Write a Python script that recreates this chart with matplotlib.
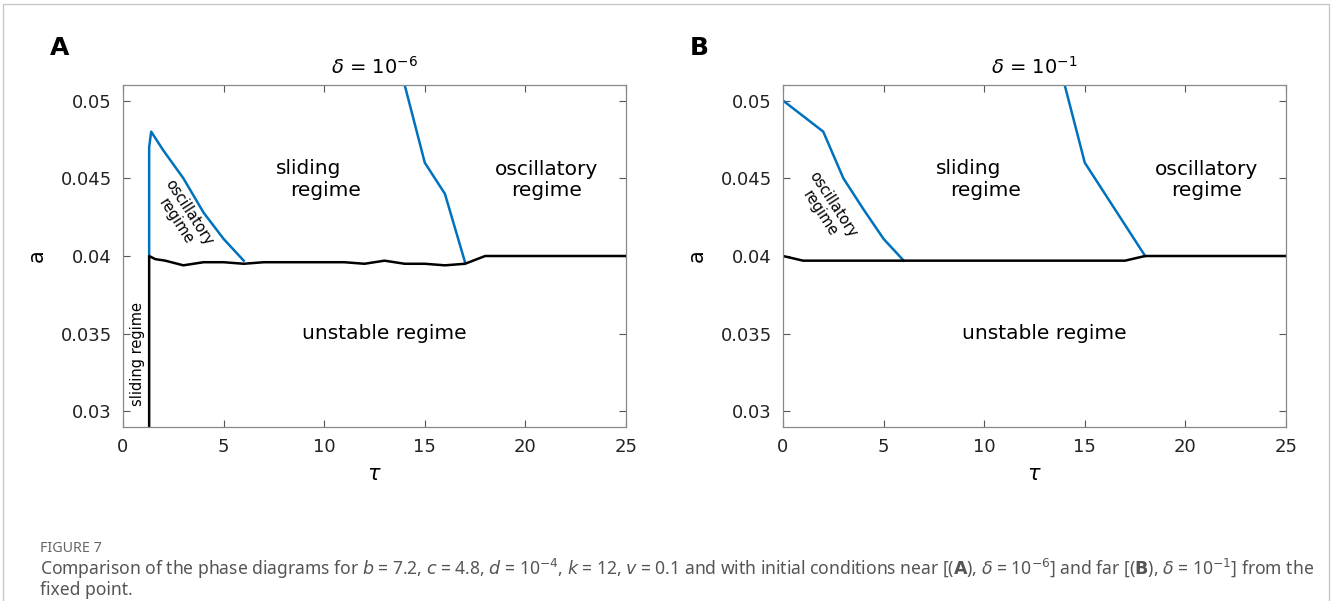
import matplotlib
matplotlib.use("Agg")
import matplotlib.pyplot as plt
from matplotlib.patches import Rectangle

plt.rcParams['font.family'] = ['DejaVu Sans']
plt.rcParams['mathtext.fontset'] = 'custom'
plt.rcParams['mathtext.rm'] = 'DejaVu Sans'
plt.rcParams['mathtext.it'] = 'DejaVu Sans:italic'
plt.rcParams['mathtext.bf'] = 'DejaVu Sans:bold'

# panel A (delta = 1e-6)
a_osc_left_tau = [1.3, 1.3, 1.4, 2.0, 3.0, 4.0, 5.0, 6.0]
a_osc_left_a = [0.0400, 0.0470, 0.0480, 0.0468, 0.0450, 0.0428, 0.0411, 0.0397]
a_osc_right_tau = [14.0, 15.0, 16.0, 17.0]
a_osc_right_a = [0.0510, 0.0460, 0.0440, 0.0396]
a_unst_tau = [1.3, 1.3, 1.6, 2.1, 3, 4, 5, 6, 7, 8, 9, 10, 11, 12, 13, 14, 15, 16, 17, 18, 25]
a_unst_a = [0.0290, 0.0400, 0.0398, 0.0397, 0.0394, 0.0396, 0.0396, 0.0395, 0.0396, 0.0396,
            0.0396, 0.0396, 0.0396, 0.0395, 0.0397, 0.0395, 0.0395, 0.0394, 0.0395, 0.0400, 0.0400]

# panel B (delta = 1e-1)
b_osc_left_tau = [0.0, 2.0, 3.0, 4.0, 5.0, 6.0]
b_osc_left_a = [0.0500, 0.0480, 0.0450, 0.0430, 0.0411, 0.0397]
b_osc_right_tau = [14.0, 15.0, 18.0]
b_osc_right_a = [0.0510, 0.0460, 0.0400]
b_unst_tau = [0, 1, 17, 18, 25]
b_unst_a = [0.0400, 0.0397, 0.0397, 0.0400, 0.0400]

yticks = [0.03, 0.035, 0.04, 0.045, 0.05]
ytick_labels = ['0.03', '0.035', '0.04', '0.045', '0.05']
xticks = [0, 5, 10, 15, 20, 25]

blue = '#0072BD'

fig = plt.figure(figsize=(13.32, 6.01), dpi=100)
axA = fig.add_axes([123/1332, 1-427/601, 503/1332, 342/601])
axB = fig.add_axes([783/1332, 1-427/601, 503/1332, 342/601])


def style(ax, title):
    ax.set_xlim(0, 25)
    ax.set_ylim(0.029, 0.051)
    ax.set_xticks(xticks)
    ax.set_yticks(yticks)
    ax.set_yticklabels(ytick_labels)
    ax.tick_params(direction='in', top=True, right=True, labelsize=13,
                   length=5, width=0.8, color='#555555', labelcolor='#222222', pad=8)
    for s in ax.spines.values():
        s.set_color('#888888')
        s.set_linewidth(0.9)
    ax.set_xlabel(r'$\tau$', fontsize=15, labelpad=6)
    ax.set_ylabel('a', fontsize=15, labelpad=10)
    ax.set_title(title, fontsize=14, pad=8)


def regions(ax):
    ax.text(9.25, 0.0456, 'sliding', ha='center', va='center', fontsize=14.5)
    ax.text(10.05, 0.0442, 'regime', ha='center', va='center', fontsize=14.5)
    ax.text(21.05, 0.0449, 'oscillatory\nregime', ha='center', va='center', fontsize=14.5, linespacing=1.15)
    ax.text(13.0, 0.0350, 'unstable regime', ha='center', va='center', fontsize=14.5)


axA.plot(a_osc_left_tau, a_osc_left_a, color=blue, lw=1.8)
axA.plot(a_osc_right_tau, a_osc_right_a, color=blue, lw=1.8)
axA.plot(a_unst_tau, a_unst_a, color='black', lw=1.8)
style(axA, r'$\delta$ = 10$^{\mathrm{-6}}$')
regions(axA)
axA.text(2.95, 0.0425, 'oscillatory\nregime', ha='center', va='center', fontsize=10.5,
         rotation=-57, rotation_mode='anchor', linespacing=1.1)
axA.text(0.7, 0.0337, 'sliding regime', ha='center', va='center', fontsize=10.5, rotation=90)

axB.plot(b_osc_left_tau, b_osc_left_a, color=blue, lw=1.8)
axB.plot(b_osc_right_tau, b_osc_right_a, color=blue, lw=1.8)
axB.plot(b_unst_tau, b_unst_a, color='black', lw=1.8)
style(axB, r'$\delta$ = 10$^{\mathrm{-1}}$')
regions(axB)
axB.text(2.15, 0.0430, 'oscillatory\nregime', ha='center', va='center', fontsize=10.5,
         rotation=-57, rotation_mode='anchor', linespacing=1.1)

fig.text(50/1332, 1-48/601, 'A', fontsize=18, fontweight='bold', va='center', ha='left')
fig.text(690/1332, 1-48/601, 'B', fontsize=18, fontweight='bold', va='center', ha='left')

# caption
fig.text(40/1332, 1-549/601, 'FIGURE 7', fontsize=10.3, color='#666666', va='center',
         family='Noto Sans')
cap1 = (r'Comparison of the phase diagrams for $b$ = 7.2, $c$ = 4.8, $d$ = 10$^{-4}$, '
        r'$k$ = 12, $v$ = 0.1 and with initial conditions near [($\mathbf{A}$), '
        r'$\delta$ = 10$^{-6}$] and far [($\mathbf{B}$), $\delta$ = 10$^{-1}$] from the')
fig.text(40/1332, 1-569/601, cap1, fontsize=12.6, color='#555555', va='center', family='Noto Sans')
fig.text(40/1332, 1-590/601, 'fixed point.', fontsize=12.6, color='#555555', va='center',
         family='Noto Sans')

fig.patches.append(Rectangle((3/1332, -0.01), 1326/1332, 1.01 - 4/601,
                             transform=fig.transFigure, fill=False,
                             edgecolor='#c8c8c8', lw=1))

fig.savefig('out.png', dpi=100)
